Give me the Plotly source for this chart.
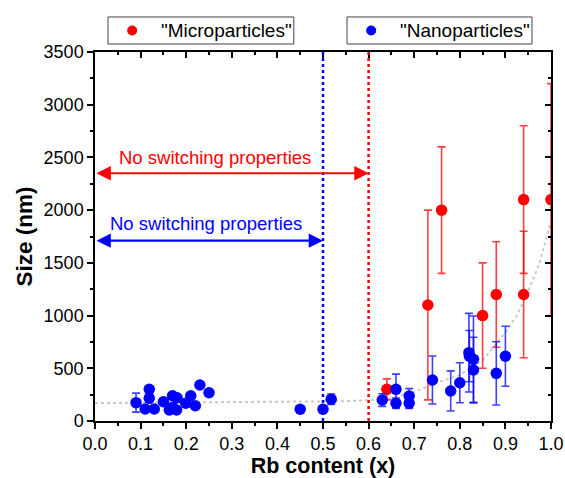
import plotly.graph_objects as go

# ---------------- data ----------------
micro_x = [0.64, 0.73, 0.76, 0.85, 0.88, 0.94, 0.94, 1.0]
micro_y = [300, 1100, 2000, 1000, 1200, 2100, 1200, 2100]
micro_err = [100, 900, 600, 500, 500, 700, 600, 1100]

nano_x = [0.09, 0.119, 0.119, 0.11, 0.13, 0.15, 0.17, 0.18, 0.163, 0.17, 0.179,
          0.199, 0.21, 0.22, 0.23, 0.25, 0.45, 0.50, 0.518, 0.63, 0.66, 0.66,
          0.689, 0.689, 0.74, 0.78, 0.80, 0.82, 0.821, 0.83, 0.83, 0.88, 0.90]
nano_y = [174, 300, 215, 114, 114, 183, 240, 221, 104, 130, 104,
          168, 240, 145, 341, 268, 111, 111, 206, 199, 300, 168,
          237, 168, 389, 285, 363, 648, 616, 585, 484, 452, 614]
nano_err = [90, 0, 0, 0, 0, 0, 0, 0, 0, 0, 0,
            0, 0, 0, 0, 0, 0, 0, 50, 60, 145, 50,
            70, 50, 228, 190, 190, 373, 243, 411, 310, 300, 285]

fit_x = [0, 0.1, 0.2, 0.3, 0.4, 0.5, 0.55, 0.6, 0.65, 0.7, 0.75, 0.8, 0.85,
         0.9, 0.925, 0.95, 0.975, 1.0]
fit_y = [170, 172, 174, 176, 178, 182, 188, 198, 218, 275, 365, 435, 575,
         840, 1000, 1230, 1500, 1900]

limit_x = [0.6, 0.5]          # micro (red), nano (blue) thresholds
limit_arrow_y = [2350, 1710]  # heights of the double arrows
limit_label = ["No switching properties", "No switching properties"]
limit_label_pos = [(0.263, 2500), (0.243, 1875)]
limit_color = ["#ff0000", "#0000ff"]

legend_names = ['"Microparticles"', '"Nanoparticles"']
legend_colors = ["#ff0000", "#0000ff"]

x_range = [0, 1.0]
y_range = [0, 3500]

FONT = "Liberation Sans, Arial, sans-serif"

fig = go.Figure()

fig.add_trace(go.Scatter(
    x=fit_x, y=fit_y, mode="lines",
    line=dict(color="#c8c8c8", width=2, dash="dot"),
    showlegend=False, hoverinfo="skip"))

fig.add_trace(go.Scatter(
    x=micro_x, y=micro_y, mode="markers", name=legend_names[0],
    marker=dict(color=legend_colors[0], size=11.5),
    error_y=dict(type="data", array=micro_err, color="rgba(255,0,0,0.75)",
                 thickness=1.6, width=4),
    showlegend=False))

fig.add_trace(go.Scatter(
    x=nano_x, y=nano_y, mode="markers", name=legend_names[1],
    marker=dict(color=legend_colors[1], size=11.5),
    error_y=dict(type="data", array=nano_err, color="rgba(0,0,255,0.75)",
                 thickness=1.6, width=4),
    showlegend=False))

# invisible trace for mirrored (top/right) axes
fig.add_trace(go.Scatter(x=x_range, y=y_range, xaxis="x2", yaxis="y2",
                         mode="markers", marker=dict(opacity=0),
                         showlegend=False, hoverinfo="skip"))

# vertical dotted thresholds, arrows and labels
for lx, ay, lab, (tx, ty), col in zip(limit_x, limit_arrow_y, limit_label,
                                       limit_label_pos, limit_color):
    fig.add_shape(type="line", x0=lx, x1=lx, y0=y_range[0], y1=y_range[1],
                  xref="x", yref="y",
                  line=dict(color=col, width=2.5, dash="dot"))
    fig.add_annotation(x=lx, y=ay, ax=x_range[0], ay=ay, axref="x", ayref="y",
                       xref="x", yref="y", text="", showarrow=True,
                       arrowside="end+start", arrowhead=2, arrowsize=1.3,
                       arrowwidth=2.2, arrowcolor=col, standoff=0, startstandoff=0)
    fig.add_annotation(x=tx, y=ty, xref="x", yref="y", text=lab,
                       showarrow=False, font=dict(family=FONT, size=18.5, color=col))

# legend boxes drawn above the plot (two separate framed boxes)
legend_boxes = [(0.0285, 0.436), (0.5526, 0.9583)]
legend_y = (1.0217, 1.0949)
for (bx0, bx1), name, col in zip(legend_boxes, legend_names, legend_colors):
    fig.add_shape(type="rect", xref="paper", yref="paper",
                  x0=bx0, x1=bx1, y0=legend_y[0], y1=legend_y[1],
                  line=dict(color="#444", width=1), fillcolor="white", layer="above")
    ymid = (legend_y[0] + legend_y[1]) / 2
    fig.add_shape(type="circle", xref="paper", yref="paper",
                  xsizemode="pixel", ysizemode="pixel",
                  xanchor=bx0 + 0.053, yanchor=ymid,
                  x0=-5, x1=5, y0=-5, y1=5,
                  line=dict(width=0), fillcolor=col, layer="above")
    fig.add_annotation(x=bx0 + 0.112, y=ymid, xref="paper", yref="paper",
                       xanchor="left", yanchor="middle", text=name,
                       showarrow=False, font=dict(family=FONT, size=19, color="black"))

axis_common = dict(showgrid=False, zeroline=False, showline=True,
                   linecolor="black", linewidth=1.5)

fig.update_layout(
    width=565, height=478,
    margin=dict(l=95, r=14, t=52, b=57, autoexpand=False),
    paper_bgcolor="white", plot_bgcolor="white",
    font=dict(family=FONT, size=18, color="black"),
    xaxis=dict(**axis_common, range=x_range, dtick=0.1, tick0=0, tickformat=".1f",
               ticks="outside", ticklen=6, tickwidth=1.5, tickcolor="black",
               minor=dict(ticks="outside", ticklen=3, tickwidth=1.5,
                          tickcolor="black", dtick=0.05),
               tickfont=dict(size=18),
               title=dict(text="<b>Rb content (x)</b>", font=dict(size=21.5),
                          standoff=5)),
    yaxis=dict(**axis_common, range=y_range, dtick=500, tick0=0,
               ticks="outside", ticklen=6, tickwidth=1.5, tickcolor="black",
               minor=dict(ticks="outside", ticklen=3, tickwidth=1.5,
                          tickcolor="black", dtick=250),
               tickfont=dict(size=18),
               title=dict(text="<b>Size (nm)</b>", font=dict(size=22.5),
                          standoff=5)),
    xaxis2=dict(**axis_common, range=x_range, overlaying="x", side="top",
                dtick=0.1, tick0=0, ticks="inside", ticklen=6, tickwidth=1.5,
                tickcolor="black", showticklabels=False,
                minor=dict(ticks="inside", ticklen=3, tickwidth=1.5,
                           tickcolor="black", dtick=0.05)),
    yaxis2=dict(**axis_common, range=y_range, overlaying="y", side="right",
                dtick=500, tick0=0, ticks="inside", ticklen=6, tickwidth=1.5,
                tickcolor="black", showticklabels=False,
                minor=dict(ticks="inside", ticklen=3, tickwidth=1.5,
                           tickcolor="black", dtick=250)),
    showlegend=False,
)

fig.write_html("out.html",
               config={"displayModeBar": False},
               post_script="document.body.style.margin='0';"
                           "document.body.style.overflow='hidden';")
